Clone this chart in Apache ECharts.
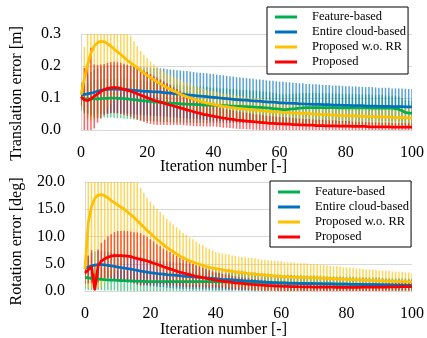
<!DOCTYPE html>
<html><head><meta charset="utf-8">
<script src="https://cdn.jsdelivr.net/npm/echarts@6/dist/echarts.min.js"></script>
<style>html,body{margin:0;padding:0;background:#fff}#c{width:427px;height:338px}</style>
</head><body><div id="c"></div>
<script>
var seriesNames = ['Feature-based', 'Entire cloud-based', 'Proposed w.o. RR', 'Proposed'];
var xTicks = [0, 20, 40, 60, 80, 100];
// Translation error [m] — means and standard deviations, iterations 0..100
var tG = [0.100,0.098,0.097,0.097,0.097,0.097,0.098,0.099,0.099,0.100,0.100,
0.099,0.099,0.098,0.097,0.096,0.095,0.093,0.092,0.091,0.090,
0.089,0.088,0.087,0.086,0.085,0.085,0.084,0.083,0.083,0.082,
0.081,0.081,0.080,0.080,0.079,0.079,0.078,0.078,0.078,0.077,
0.077,0.076,0.076,0.076,0.075,0.075,0.074,0.074,0.073,0.073,
0.072,0.072,0.071,0.071,0.070,0.069,0.068,0.067,0.066,0.065,
0.064,0.064,0.065,0.066,0.067,0.068,0.069,0.070,0.070,0.070,
0.070,0.070,0.070,0.070,0.070,0.070,0.070,0.069,0.069,0.069,
0.069,0.069,0.069,0.069,0.069,0.069,0.069,0.068,0.068,0.068,
0.068,0.068,0.068,0.068,0.067,0.065,0.060,0.055,0.053,0.053];
var tGs = [0.040,0.045,0.050,0.055,0.058,0.060,0.060,0.060,0.061,0.061,0.062,
0.062,0.062,0.062,0.062,0.062,0.062,0.062,0.062,0.062,0.062,
0.061,0.061,0.061,0.060,0.060,0.060,0.059,0.059,0.059,0.058,
0.058,0.058,0.057,0.057,0.057,0.056,0.056,0.056,0.055,0.055,
0.055,0.054,0.054,0.054,0.053,0.053,0.053,0.052,0.052,0.052,
0.051,0.051,0.051,0.050,0.050,0.050,0.049,0.049,0.049,0.048,
0.048,0.048,0.048,0.047,0.047,0.047,0.047,0.046,0.046,0.046,
0.046,0.045,0.045,0.045,0.045,0.044,0.044,0.044,0.044,0.043,
0.043,0.043,0.043,0.042,0.042,0.042,0.042,0.041,0.041,0.041,
0.041,0.040,0.040,0.040,0.040,0.040,0.039,0.039,0.039,0.039];
var tB = [0.110,0.111,0.113,0.115,0.118,0.121,0.124,0.126,0.127,0.128,0.128,
0.128,0.127,0.127,0.126,0.125,0.124,0.123,0.122,0.121,0.121,
0.120,0.119,0.119,0.118,0.117,0.116,0.115,0.114,0.113,0.112,
0.111,0.110,0.109,0.108,0.107,0.106,0.105,0.104,0.103,0.102,
0.101,0.100,0.099,0.098,0.097,0.096,0.095,0.094,0.093,0.093,
0.092,0.091,0.090,0.090,0.089,0.088,0.087,0.087,0.086,0.085,
0.085,0.084,0.084,0.083,0.083,0.082,0.082,0.081,0.081,0.080,
0.080,0.080,0.079,0.079,0.079,0.078,0.078,0.078,0.077,0.077,
0.077,0.076,0.076,0.076,0.076,0.075,0.075,0.075,0.075,0.074,
0.074,0.074,0.074,0.073,0.073,0.073,0.073,0.072,0.072,0.072];
var tBs = [0.040,0.050,0.060,0.066,0.070,0.072,0.073,0.074,0.075,0.075,0.075,
0.075,0.075,0.075,0.075,0.075,0.075,0.075,0.075,0.075,0.075,
0.075,0.075,0.075,0.075,0.075,0.074,0.074,0.074,0.074,0.074,
0.074,0.074,0.074,0.073,0.073,0.073,0.073,0.073,0.073,0.073,
0.072,0.072,0.072,0.071,0.071,0.071,0.070,0.070,0.070,0.069,
0.069,0.069,0.068,0.068,0.068,0.067,0.067,0.067,0.066,0.066,
0.066,0.065,0.065,0.065,0.064,0.064,0.064,0.063,0.063,0.063,
0.063,0.062,0.062,0.062,0.062,0.061,0.061,0.061,0.061,0.060,
0.060,0.060,0.060,0.059,0.059,0.059,0.059,0.059,0.058,0.058,
0.058,0.058,0.058,0.057,0.057,0.057,0.057,0.057,0.056,0.056];
var tY = [0.110,0.160,0.205,0.240,0.262,0.273,0.277,0.276,0.270,0.262,0.253,
0.245,0.236,0.227,0.218,0.210,0.202,0.194,0.186,0.178,0.171,
0.164,0.157,0.150,0.144,0.138,0.132,0.127,0.122,0.117,0.112,
0.108,0.104,0.100,0.096,0.093,0.090,0.087,0.084,0.082,0.080,
0.078,0.076,0.074,0.073,0.071,0.070,0.068,0.067,0.066,0.065,
0.064,0.063,0.062,0.061,0.060,0.059,0.058,0.057,0.057,0.056,
0.055,0.055,0.054,0.053,0.053,0.052,0.052,0.051,0.051,0.050,
0.049,0.049,0.048,0.048,0.047,0.047,0.046,0.046,0.045,0.045,
0.044,0.044,0.044,0.043,0.043,0.042,0.042,0.042,0.041,0.041,
0.041,0.040,0.040,0.040,0.039,0.039,0.039,0.039,0.038,0.038];
var tYs = [0.040,0.100,0.170,0.210,0.230,0.235,0.230,0.220,0.200,0.180,0.160,
0.140,0.120,0.105,0.095,0.085,0.075,0.068,0.062,0.057,0.053,
0.050,0.048,0.047,0.046,0.045,0.045,0.044,0.044,0.044,0.043,
0.043,0.043,0.043,0.042,0.042,0.042,0.042,0.041,0.041,0.041,
0.041,0.040,0.040,0.040,0.040,0.039,0.039,0.039,0.039,0.038,
0.038,0.038,0.038,0.038,0.037,0.037,0.037,0.037,0.037,0.036,
0.036,0.036,0.036,0.036,0.035,0.035,0.035,0.035,0.035,0.034,
0.034,0.034,0.034,0.034,0.034,0.033,0.033,0.033,0.033,0.033,
0.033,0.032,0.032,0.032,0.032,0.032,0.032,0.031,0.031,0.031,
0.031,0.031,0.031,0.030,0.030,0.030,0.030,0.030,0.030,0.030];
var tR = [0.104,0.094,0.092,0.097,0.105,0.113,0.120,0.126,0.130,0.132,0.133,
0.132,0.130,0.127,0.124,0.121,0.117,0.113,0.109,0.105,0.101,
0.097,0.093,0.090,0.087,0.084,0.081,0.078,0.075,0.072,0.069,
0.066,0.063,0.060,0.057,0.054,0.052,0.049,0.047,0.045,0.043,
0.041,0.039,0.037,0.036,0.034,0.033,0.031,0.030,0.029,0.028,
0.027,0.026,0.025,0.024,0.023,0.022,0.021,0.021,0.020,0.019,
0.019,0.018,0.018,0.017,0.017,0.016,0.016,0.015,0.015,0.015,
0.014,0.014,0.014,0.013,0.013,0.013,0.013,0.012,0.012,0.012,
0.012,0.011,0.011,0.011,0.011,0.011,0.010,0.010,0.010,0.010,
0.010,0.010,0.010,0.009,0.009,0.009,0.009,0.009,0.009,0.009];
var tRs = [0.030,0.100,0.110,0.160,0.100,0.090,0.085,0.080,0.080,0.080,0.080,
0.080,0.080,0.080,0.080,0.080,0.080,0.080,0.080,0.080,0.080,
0.078,0.076,0.074,0.071,0.068,0.065,0.062,0.059,0.056,0.053,
0.051,0.049,0.047,0.045,0.042,0.040,0.038,0.036,0.034,0.032,
0.031,0.030,0.030,0.029,0.028,0.028,0.027,0.027,0.026,0.026,
0.025,0.025,0.024,0.024,0.024,0.023,0.023,0.022,0.022,0.022,
0.021,0.021,0.021,0.020,0.020,0.020,0.019,0.019,0.019,0.018,
0.018,0.018,0.018,0.017,0.017,0.017,0.017,0.016,0.016,0.016,
0.016,0.015,0.015,0.015,0.015,0.014,0.014,0.014,0.014,0.013,
0.013,0.013,0.013,0.013,0.012,0.012,0.012,0.012,0.012,0.012];
// Rotation error [deg]
var rG = [2.50,2.40,2.30,2.25,2.20,2.15,2.10,2.05,2.00,2.00,1.95,
1.90,1.90,1.85,1.85,1.80,1.80,1.75,1.75,1.70,1.70,
1.70,1.70,1.70,1.70,1.70,1.70,1.70,1.70,1.70,1.70,
1.70,1.70,1.70,1.70,1.70,1.70,1.70,1.70,1.70,1.70,
1.69,1.68,1.67,1.66,1.65,1.64,1.63,1.62,1.61,1.60,
1.59,1.58,1.57,1.56,1.55,1.54,1.53,1.52,1.51,1.50,
1.49,1.47,1.46,1.45,1.43,1.42,1.41,1.39,1.38,1.37,
1.35,1.34,1.33,1.31,1.30,1.29,1.28,1.27,1.26,1.25,
1.24,1.22,1.21,1.20,1.19,1.17,1.16,1.15,1.14,1.12,
1.11,1.10,1.09,1.07,1.06,1.05,1.04,1.03,1.01,1.00];
var rGs = [2.2,2.2,2.1,2.1,2.0,2.0,2.0,1.9,1.9,1.9,1.9,
1.9,1.9,1.9,1.8,1.8,1.8,1.8,1.8,1.8,1.8,
1.8,1.8,1.8,1.8,1.8,1.8,1.8,1.8,1.8,1.8,
1.8,1.8,1.8,1.8,1.8,1.7,1.7,1.7,1.7,1.7,
1.7,1.7,1.7,1.7,1.7,1.6,1.6,1.6,1.6,1.6,
1.6,1.6,1.6,1.6,1.6,1.5,1.5,1.5,1.5,1.5,
1.5,1.5,1.5,1.5,1.5,1.5,1.5,1.5,1.5,1.5,
1.5,1.5,1.4,1.4,1.4,1.4,1.4,1.4,1.4,1.4,
1.4,1.4,1.4,1.4,1.4,1.4,1.4,1.4,1.4,1.4,
1.3,1.3,1.3,1.3,1.3,1.3,1.3,1.3,1.3,1.3];
var rB = [4.20,4.40,4.60,4.75,4.85,4.85,4.80,4.70,4.60,4.50,4.40,
4.30,4.20,4.10,4.00,3.90,3.80,3.65,3.55,3.45,3.35,
3.30,3.20,3.15,3.10,3.00,2.95,2.90,2.85,2.80,2.75,
2.70,2.65,2.60,2.55,2.50,2.45,2.40,2.35,2.30,2.25,
2.20,2.15,2.11,2.07,2.03,1.99,1.95,1.91,1.87,1.83,
1.79,1.75,1.71,1.67,1.63,1.59,1.55,1.51,1.47,1.44,
1.43,1.42,1.41,1.40,1.39,1.38,1.37,1.36,1.35,1.34,
1.33,1.32,1.31,1.30,1.29,1.28,1.27,1.26,1.25,1.24,
1.23,1.22,1.21,1.20,1.19,1.18,1.17,1.16,1.15,1.14,
1.13,1.12,1.11,1.10,1.09,1.08,1.07,1.06,1.05,1.04];
var rBs = [2.0,2.2,2.4,2.5,2.5,2.5,2.5,2.5,2.5,2.5,2.5,
2.5,2.5,2.5,2.5,2.5,2.5,2.5,2.5,2.5,2.5,
2.4,2.4,2.4,2.4,2.4,2.4,2.4,2.4,2.4,2.4,
2.3,2.3,2.3,2.2,2.2,2.2,2.1,2.1,2.1,2.0,
2.0,2.0,1.9,1.9,1.9,1.8,1.8,1.8,1.7,1.7,
1.7,1.7,1.6,1.6,1.6,1.6,1.5,1.5,1.5,1.5,
1.5,1.5,1.5,1.4,1.4,1.4,1.4,1.4,1.4,1.4,
1.3,1.3,1.3,1.3,1.3,1.3,1.3,1.3,1.3,1.3,
1.3,1.3,1.2,1.2,1.2,1.2,1.2,1.2,1.2,1.2,
1.2,1.1,1.1,1.1,1.1,1.1,1.1,1.1,1.1,1.1];
var rY = [4.0,12.5,15.5,17.0,17.6,17.7,17.5,17.1,16.6,16.2,15.8,
15.4,15.0,14.5,14.0,13.5,12.9,12.3,11.7,11.1,10.6,
10.0,9.5,9.0,8.5,8.0,7.6,7.2,6.8,6.4,6.1,
5.8,5.5,5.3,5.1,4.9,4.7,4.5,4.35,4.2,4.1,
4.0,3.9,3.8,3.7,3.6,3.5,3.4,3.35,3.3,3.2,
3.15,3.1,3.0,2.95,2.9,2.85,2.8,2.75,2.7,2.65,
2.6,2.58,2.56,2.54,2.52,2.5,2.48,2.46,2.44,2.42,
2.4,2.37,2.34,2.31,2.28,2.25,2.22,2.19,2.16,2.13,
2.1,2.08,2.06,2.03,2.0,1.98,1.95,1.93,1.9,1.88,
1.86,1.83,1.81,1.79,1.76,1.74,1.72,1.7,1.68,1.65];
var rYs = [3.0,12.0,15.0,16.5,17.0,17.0,16.0,15.0,14.0,13.0,12.0,
11.0,10.0,9.0,8.0,7.5,7.0,6.6,6.3,6.0,5.8,
5.7,5.6,5.5,5.4,5.2,5.1,5.0,4.9,4.8,4.6,
4.5,4.3,4.2,4.0,3.8,3.7,3.5,3.4,3.2,3.0,
3.0,3.0,3.0,3.0,2.9,2.9,2.9,2.9,2.9,2.9,
2.9,2.9,2.9,2.8,2.8,2.8,2.8,2.8,2.8,2.8,
2.7,2.7,2.7,2.7,2.6,2.6,2.6,2.6,2.5,2.5,
2.5,2.4,2.4,2.4,2.3,2.3,2.3,2.3,2.2,2.2,
2.2,2.2,2.1,2.1,2.1,2.0,2.0,2.0,2.0,1.9,
1.9,1.9,1.9,1.8,1.8,1.8,1.8,1.7,1.7,1.7];
var rR = [3.3,3.9,4.5,0.2,4.6,5.5,5.9,6.2,6.4,6.5,6.5,
6.5,6.45,6.4,6.3,6.1,5.95,5.8,5.65,5.5,5.3,
5.1,4.9,4.7,4.45,4.25,4.05,3.85,3.65,3.45,3.3,
3.15,3.0,2.85,2.7,2.6,2.45,2.35,2.2,2.1,2.0,
1.9,1.82,1.74,1.66,1.58,1.5,1.44,1.38,1.32,1.26,
1.2,1.16,1.12,1.08,1.04,1.0,0.97,0.94,0.91,0.88,
0.86,0.84,0.82,0.8,0.78,0.77,0.76,0.75,0.74,0.73,
0.72,0.71,0.7,0.7,0.69,0.69,0.68,0.68,0.67,0.67,
0.67,0.67,0.68,0.68,0.69,0.69,0.7,0.7,0.71,0.72,
0.72,0.73,0.74,0.75,0.76,0.77,0.78,0.79,0.8,0.8];
var rRs = [2.0,2.5,3.0,3.0,3.0,3.3,3.5,3.8,4.0,4.3,4.5,
4.5,4.6,4.6,4.6,4.7,4.8,4.8,4.6,4.4,4.2,
4.0,3.7,3.5,3.3,3.2,3.1,2.9,2.8,2.6,2.5,
2.4,2.3,2.1,2.0,1.9,1.8,1.7,1.6,1.5,1.4,
1.4,1.3,1.3,1.3,1.2,1.2,1.2,1.1,1.1,1.1,
1.0,1.0,1.0,1.0,1.0,0.9,0.9,0.9,0.9,0.9,
0.9,0.9,0.8,0.8,0.8,0.8,0.8,0.8,0.8,0.8,
0.8,0.8,0.8,0.7,0.7,0.7,0.7,0.7,0.7,0.7,
0.7,0.7,0.7,0.7,0.7,0.7,0.7,0.7,0.7,0.7,
0.7,0.7,0.7,0.7,0.7,0.7,0.7,0.7,0.7,0.7];

var colors = ['#00b050', '#0070c0', '#ffc000', '#ff0000'];
var barColors = ['rgba(0,176,80,0.6)', 'rgba(0,112,192,0.65)', 'rgba(255,192,0,0.65)', 'rgba(255,0,0,0.6)'];
var FONT = 'Liberation Serif';

var topMeans = [tG, tB, tY, tR], topStds = [tGs, tBs, tYs, tRs];
var botMeans = [rG, rB, rY, rR], botStds = [rGs, rBs, rYs, rRs];

function barRenderer(color, ymax) {
  return function (params, api) {
    var x = api.value(0), m = api.value(1), s = api.value(2);
    var lo = Math.max(0, m - s), hi = Math.min(ymax, m + s);
    var p1 = api.coord([x, lo]), p2 = api.coord([x, hi]);
    return { type: 'line', shape: { x1: p1[0], y1: p1[1], x2: p2[0], y2: p2[1] },
      style: { stroke: color, lineWidth: 1.5 } };
  };
}

var series = [];
function addPanel(means, stds, gi, ymax) {
  for (var k = 0; k < 4; k++) {
    var d = means[k].map(function (v, i) { return [i, v, stds[k][i]]; });
    series.push({ type: 'custom', xAxisIndex: gi, yAxisIndex: gi, renderItem: barRenderer(barColors[k], ymax),
      data: d, encode: { x: 0, y: 1 }, silent: true, z: 1, clip: true });
  }
  for (var k2 = 0; k2 < 4; k2++) {
    series.push({ type: 'line', name: seriesNames[k2], xAxisIndex: gi, yAxisIndex: gi,
      data: means[k2].map(function (v, i) { return [i, v]; }), showSymbol: false, symbol: 'none',
      lineStyle: { color: colors[k2], width: 2.75 }, itemStyle: { color: colors[k2] }, z: 3 + k2 });
  }
}
addPanel(topMeans, topStds, 0, 0.3);
addPanel(botMeans, botStds, 1, 20);

function xAx(gi) {
  return { gridIndex: gi, type: 'value', min: 0, max: 100, interval: 20,
    axisLine: { show: true, lineStyle: { color: '#d9d9d9', width: 1 } }, axisTick: { show: false },
    splitLine: { show: false },
    axisLabel: { margin: 15, fontSize: 16, color: '#000', fontFamily: FONT,
      formatter: function (v) { return xTicks.indexOf(v) >= 0 ? String(v) : ''; } } };
}
function yAx(gi, max, itv) {
  return { gridIndex: gi, type: 'value', min: 0, max: max, interval: itv,
    axisLine: { show: true, lineStyle: { color: '#d9d9d9', width: 1 } }, axisTick: { show: false },
    splitLine: { show: true, lineStyle: { color: '#d9d9d9', width: 1 } },
    axisLabel: { margin: 20, fontSize: 16, color: '#000', fontFamily: FONT,
      formatter: function (v) { return v.toFixed(1); } } };
}
function legendAt(left, top, pad) {
  return { data: seriesNames, left: left, top: top, orient: 'vertical', itemGap: 0,
    itemWidth: 22, itemHeight: 3, icon: 'rect', padding: pad,
    borderColor: '#000', borderWidth: 1, backgroundColor: '#fff', selectedMode: false,
    textStyle: { fontFamily: FONT, fontSize: 12.5, color: '#000', lineHeight: 15, padding: [0, 0, 0, 10] } };
}
function txt(x, y, s, rot) {
  return { type: 'text', x: x, y: y, rotation: rot || 0, z: 100,
    style: { text: s, font: '16px "Liberation Serif"', fill: '#000', textAlign: 'center', textVerticalAlign: 'middle' } };
}

var chart = echarts.init(document.getElementById('c'), null, { renderer: 'canvas' });
chart.setOption({
  animation: false,
  backgroundColor: '#fff',
  textStyle: { fontFamily: FONT },
  grid: [{ left: 81, top: 34, width: 333, height: 96 }, { left: 85, top: 182, width: 329, height: 109 }],
  xAxis: [xAx(0), xAx(1)],
  yAxis: [yAx(0, 0.3, 0.1), yAx(1, 20, 5)],
  legend: [legendAt(267, 7, [2.5, 2, 4.5, 8]), legendAt(270, 181, [3.5, 2, 2.5, 8])],
  graphic: [
    txt(223.5, 166.5, 'Iteration number [-]'),
    txt(223.5, 330, 'Iteration number [-]'),
    txt(17, 93.5, 'Translation error [m]', Math.PI / 2),
    txt(17, 241.5, 'Rotation error [deg]', Math.PI / 2)
  ],
  series: series
});
</script></body></html>
